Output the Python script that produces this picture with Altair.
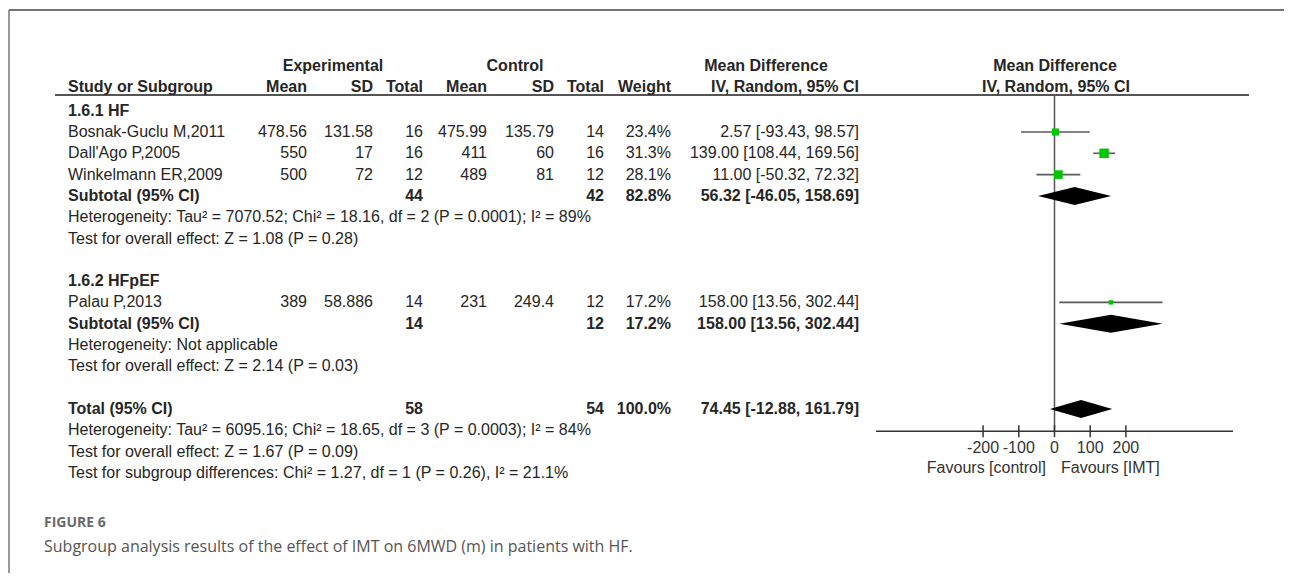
import altair as alt
import pandas as pd

# ---------------- data ----------------
studies = ["Bosnak-Guclu M,2011", "Dall'Ago P,2005", "Winkelmann ER,2009", "Palau P,2013"]
study_group = [0, 0, 0, 1]
exp_mean = ["478.56", "550", "500", "389"]
exp_sd = ["131.58", "17", "72", "58.886"]
exp_total = [16, 16, 12, 14]
ctl_mean = ["475.99", "411", "489", "231"]
ctl_sd = ["135.79", "60", "81", "249.4"]
ctl_total = [14, 16, 12, 12]
study_weight = [23.4, 31.3, 28.1, 17.2]
study_md = [2.57, 139.00, 11.00, 158.00]
study_lo = [-93.43, 108.44, -50.32, 13.56]
study_hi = [98.57, 169.56, 72.32, 302.44]

subgroups = ["1.6.1 HF", "1.6.2 HFpEF"]
sub_exp_total = [44, 14]
sub_ctl_total = [42, 12]
sub_weight = [82.8, 17.2]
sub_md = [56.32, 158.00]
sub_lo = [-46.05, 13.56]
sub_hi = [158.69, 302.44]
sub_het = ["Heterogeneity: Tau\u00b2 = 7070.52; Chi\u00b2 = 18.16, df = 2 (P = 0.0001); I\u00b2 = 89%",
           "Heterogeneity: Not applicable"]
sub_test = ["Test for overall effect: Z = 1.08 (P = 0.28)",
            "Test for overall effect: Z = 2.14 (P = 0.03)"]

total_exp = 58
total_ctl = 54
total_weight = 100.0
total_md = 74.45
total_lo = -12.88
total_hi = 161.79
total_notes = ["Heterogeneity: Tau\u00b2 = 6095.16; Chi\u00b2 = 18.65, df = 3 (P = 0.0003); I\u00b2 = 84%",
               "Test for overall effect: Z = 1.67 (P = 0.09)",
               "Test for subgroup differences: Chi\u00b2 = 1.27, df = 1 (P = 0.26), I\u00b2 = 21.1%"]

axis_ticks = [-200, -100, 0, 100, 200]
axis_range = [-500, 500]
favours = ["Favours [control]", "Favours [IMT]"]
fig_label = "FIGURE 6"
caption = "Subgroup analysis results of the effect of IMT on 6MWD (m) in patients with HF."

# ---------------- layout ----------------
W, H = 1276, 565
X0, Y0 = 8, 8
ROW0, STEP = 132, 21.3
COL = dict(study=68, em=307, esd=373, en=423, cm=487, csd=554, cn=604, w=671, ci=859)
FOREST_L, FOREST_R = 876, 1233
TEXT_FONT = "Liberation Sans"
TXT = "#262626"

px_x = alt.Scale(domain=[X0, X0 + W], range=[0, W], nice=False, zero=False)
px_y = alt.Scale(domain=[Y0, Y0 + H], range=[0, H], nice=False, zero=False)
md_x = alt.Scale(domain=axis_range, range=[FOREST_L - X0, FOREST_R - X0], nice=False, zero=False)


def row_y(k):
    return ROW0 + STEP * k


def fmt_ci(m, l, h):
    return f"{m:.2f} [{l:.2f}, {h:.2f}]"


texts = []


def add(t, x, y, align="left", bold=False, font=TEXT_FONT, size=16, color=TXT):
    texts.append(dict(t=t, x=x, y=y, align=align, bold=bold, font=font, size=size, color=color))


# headers
add("Experimental", 333, 66, "center", True)
add("Control", 515, 66, "center", True)
add("Mean Difference", 766, 66, "center", True)
add("Mean Difference", 1055, 66, "center", True)
add("Study or Subgroup", COL["study"], 87, "left", True)
for key, lab in [("em", "Mean"), ("esd", "SD"), ("en", "Total"), ("cm", "Mean"),
                 ("csd", "SD"), ("cn", "Total"), ("w", "Weight"), ("ci", "IV, Random, 95% CI")]:
    add(lab, COL[key], 87, "right", True)
add("IV, Random, 95% CI", 1056, 87, "center", True)

study_rows = []
diamonds = []
k = -1
for g, gname in enumerate(subgroups):
    add(gname, COL["study"], row_y(k), "left", True)
    k += 1
    for i, s in enumerate(studies):
        if study_group[i] != g:
            continue
        y = row_y(k)
        add(s, COL["study"], y)
        add(exp_mean[i], COL["em"], y, "right")
        add(exp_sd[i], COL["esd"], y, "right")
        add(str(exp_total[i]), COL["en"], y, "right")
        add(ctl_mean[i], COL["cm"], y, "right")
        add(ctl_sd[i], COL["csd"], y, "right")
        add(str(ctl_total[i]), COL["cn"], y, "right")
        add(f"{study_weight[i]:.1f}%", COL["w"], y, "right")
        add(fmt_ci(study_md[i], study_lo[i], study_hi[i]), COL["ci"], y, "right")
        study_rows.append(dict(md=study_md[i], lo=study_lo[i], hi=study_hi[i], y=y, weight=study_weight[i]))
        k += 1
    y = row_y(k)
    add("Subtotal (95% CI)", COL["study"], y, "left", True)
    add(str(sub_exp_total[g]), COL["en"], y, "right", True)
    add(str(sub_ctl_total[g]), COL["cn"], y, "right", True)
    add(f"{sub_weight[g]:.1f}%", COL["w"], y, "right", True)
    add(fmt_ci(sub_md[g], sub_lo[g], sub_hi[g]), COL["ci"], y, "right", True)
    diamonds.append((sub_md[g], sub_lo[g], sub_hi[g], y))
    k += 1
    add(sub_het[g], COL["study"], row_y(k))
    k += 1
    add(sub_test[g], COL["study"], row_y(k))
    k += 2

y_total = row_y(k)
add("Total (95% CI)", COL["study"], y_total, "left", True)
add(str(total_exp), COL["en"], y_total, "right", True)
add(str(total_ctl), COL["cn"], y_total, "right", True)
add(f"{total_weight:.1f}%", COL["w"], y_total, "right", True)
add(fmt_ci(total_md, total_lo, total_hi), COL["ci"], y_total, "right", True)
diamonds.append((total_md, total_lo, total_hi, y_total))
for j, note in enumerate(total_notes):
    add(note, COL["study"], row_y(k + 1 + j))
y_axis = row_y(k + 1) + 1

add(favours[0], 1046, y_axis + 37, "right", False, size=16, color="#333")
add(favours[1], 1061, y_axis + 37, "left", False, size=16, color="#333")
add(fig_label, 44, 523, "left", True, font="Open Sans", size=14, color="#6a6a6a")
add(caption, 44, 547, "left", False, font="Open Sans", size=16, color="#555")

tdf = pd.DataFrame(texts)
layers = []

# frame (top and left edges) and header rule
frame = pd.DataFrame([
    dict(x=9, x2=1292, y=10, y2=10, c="#444", w=1.5),
    dict(x=9, x2=9, y=10, y2=590, c="#777", w=1.5),
    dict(x=55, x2=1249, y=95, y2=95, c="#555", w=2.2),
])
for _, r in frame.iterrows():
    layers.append(
        alt.Chart(pd.DataFrame([r])).mark_rule(color=r["c"], strokeWidth=r["w"]).encode(
            x=alt.X("x:Q", scale=px_x, axis=None), x2="x2:Q",
            y=alt.Y("y:Q", scale=px_y, axis=None), y2="y2:Q"))

# text layers
for (align, bold, font, size, color), sub in tdf.groupby(["align", "bold", "font", "size", "color"]):
    layers.append(
        alt.Chart(sub[["t", "x", "y"]]).mark_text(
            align=align, baseline="middle", font=font, fontSize=float(size),
            fontWeight="bold" if bold else "normal", color=color).encode(
            x=alt.X("x:Q", scale=px_x, axis=None),
            y=alt.Y("y:Q", scale=px_y, axis=None),
            text="t:N"))

# forest: zero line
zero_df = pd.DataFrame([dict(md=0, y=95, y2=y_axis)])
layers.append(alt.Chart(zero_df).mark_rule(color="#555", strokeWidth=1.5).encode(
    x=alt.X("md:Q", scale=md_x, axis=None),
    y=alt.Y("y:Q", scale=px_y, axis=None), y2="y2:Q"))

# axis line, ticks, labels
axis_df = pd.DataFrame([dict(lo=axis_range[0], hi=axis_range[1], y=y_axis)])
layers.append(alt.Chart(axis_df).mark_rule(color="#333", strokeWidth=1.5).encode(
    x=alt.X("lo:Q", scale=md_x, axis=None), x2="hi:Q",
    y=alt.Y("y:Q", scale=px_y, axis=None)))
tick_df = pd.DataFrame([dict(md=t, y=y_axis - 6, y2=y_axis + 6, lab=str(t), ly=y_axis + 17) for t in axis_ticks])
layers.append(alt.Chart(tick_df).mark_rule(color="#333", strokeWidth=1.5).encode(
    x=alt.X("md:Q", scale=md_x, axis=None),
    y=alt.Y("y:Q", scale=px_y, axis=None), y2="y2:Q"))
layers.append(alt.Chart(tick_df).mark_text(
    align="center", baseline="middle", font=TEXT_FONT, fontSize=16, color="#333").encode(
    x=alt.X("md:Q", scale=md_x, axis=None),
    y=alt.Y("ly:Q", scale=px_y, axis=None),
    text="lab:N"))

# study CIs and squares
sdf = pd.DataFrame(study_rows)
layers.append(alt.Chart(sdf).mark_rule(color="#5a5a5a", strokeWidth=1.6).encode(
    x=alt.X("lo:Q", scale=md_x, axis=None), x2="hi:Q",
    y=alt.Y("y:Q", scale=px_y, axis=None)))
layers.append(alt.Chart(sdf).mark_square(color="#00c800", opacity=1, filled=True).encode(
    x=alt.X("md:Q", scale=md_x, axis=None),
    y=alt.Y("y:Q", scale=px_y, axis=None),
    size=alt.Size("weight:Q", scale=alt.Scale(domain=[17.2, 31.3], range=[20, 90]), legend=None)))

# diamonds
drows = []
for i, (m, l, h, y) in enumerate(diamonds):
    drows += [dict(id=i, md=l, ya=y, yb=y), dict(id=i, md=m, ya=y - 9, yb=y + 9), dict(id=i, md=h, ya=y, yb=y)]
ddf = pd.DataFrame(drows)
layers.append(alt.Chart(ddf).mark_area(color="black", opacity=1, orient="vertical", interpolate="linear").encode(
    x=alt.X("md:Q", scale=md_x, axis=None),
    y=alt.Y("ya:Q", scale=px_y, axis=None), y2="yb:Q",
    detail="id:N"))

chart = alt.layer(*layers).resolve_scale(x="independent", y="independent").properties(
    width=W, height=H, padding=0, autosize="none", background="white"
).configure_view(stroke=None)

chart.save("out.html", embed_options={"renderer": "svg", "actions": False})
